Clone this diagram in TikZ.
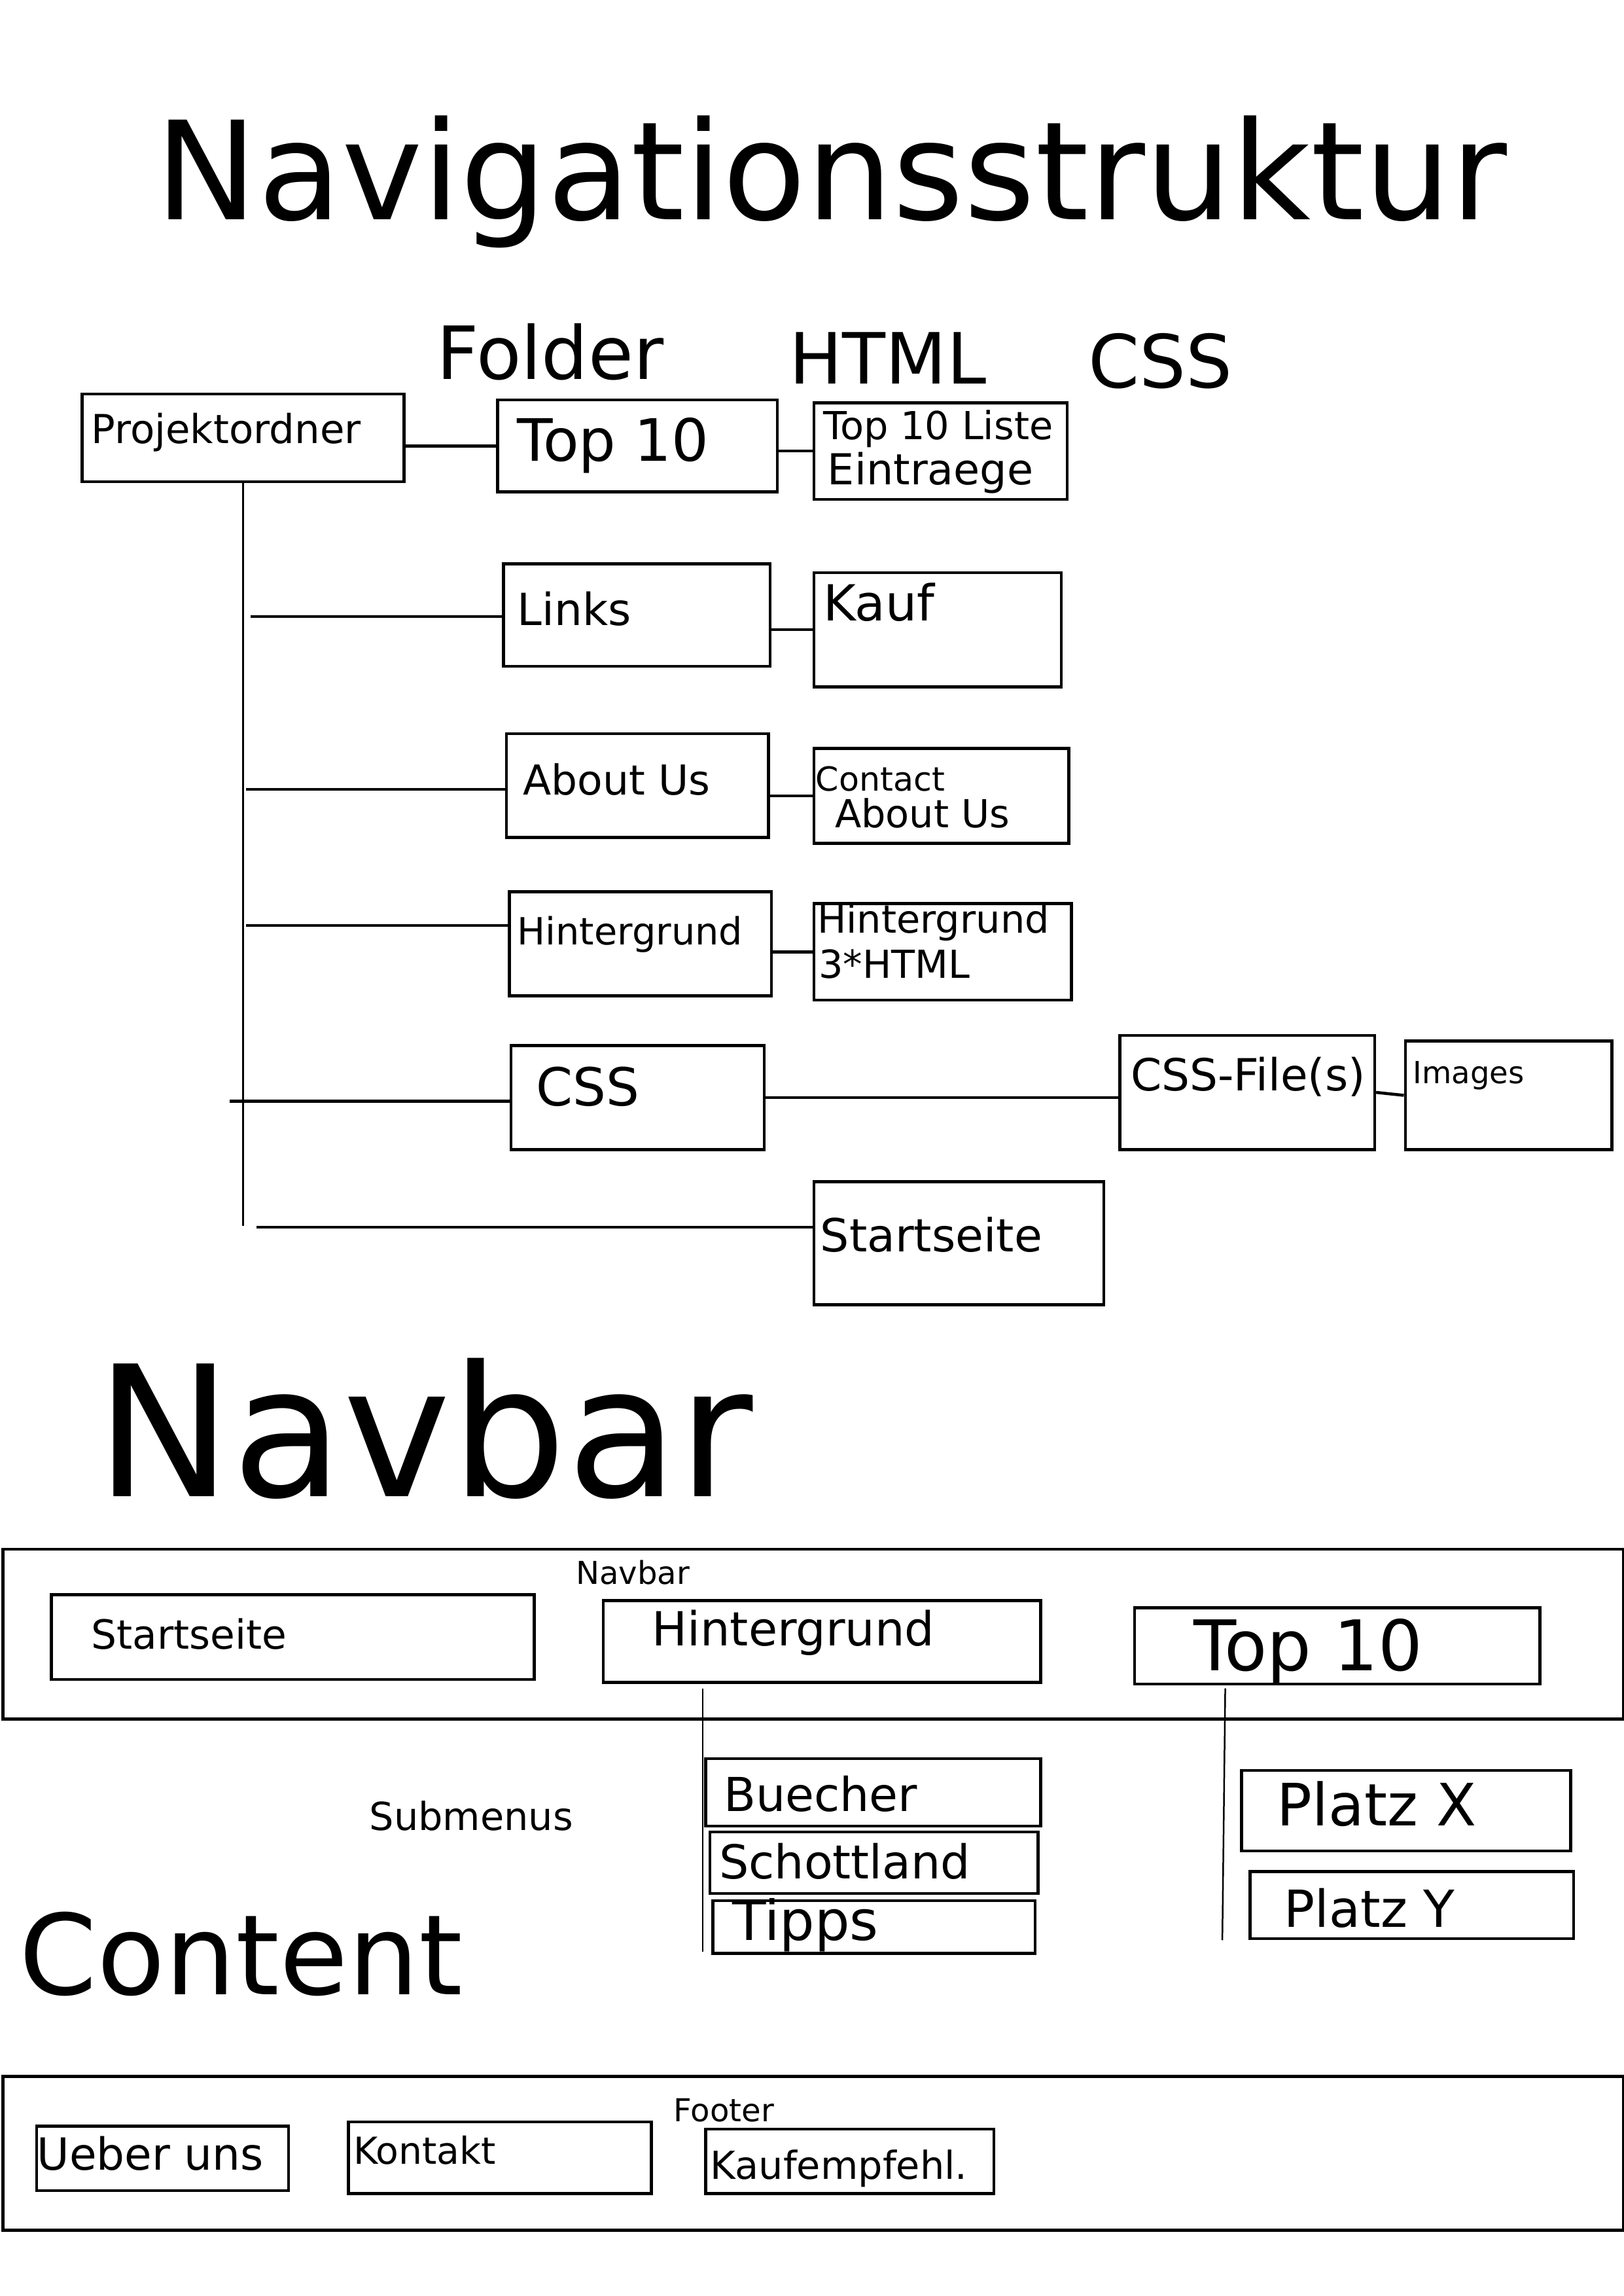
\documentclass[tikz,border=0pt]{standalone}
\usepackage{fontspec}
\setmainfont{DejaVu Sans}

\newdimen\unitpx
\unitpx=0.18936mm

\begin{document}
\begin{tikzpicture}[x=0.18936mm, y=-0.18936mm,
    box/.style={draw, line width=1.1pt, inner sep=0pt, anchor=north west},
    txt/.style={font=\fontsize{#1}{#1}\selectfont, inner sep=0pt, anchor=base west},
    conn/.style={line width=1.1pt},
    stem/.style={line width=0.6pt}]

    \useasboundingbox (0,0) rectangle (1109,1568);

    % headings
    \node[txt=50.3pt] (title) at (106,150) {Navigationsstruktur};
    \node[txt=27pt] (hfolder) at (298,259) {Folder};
    \node[txt=26pt] (hhtml) at (539,262) {HTML};
    \node[txt=27pt] (hcss) at (743,265) {CSS};

    % folder column
    \node[box, minimum width=220\unitpx, minimum height=60\unitpx] (proj) at (55,268) {};
    \node[txt=14.7pt] (projtxt) at (62,303) {Projektordner};
    \node[box, minimum width=191\unitpx, minimum height=63\unitpx] (top) at (339,272) {};
    \node[txt=21.5pt] (toptxt) at (353,315) {Top 10};
    \node[box, minimum width=182\unitpx, minimum height=70\unitpx] (links) at (343,384) {};
    \node[txt=16.3pt] (linkstxt) at (353,427) {Links};
    \node[box, minimum width=179\unitpx, minimum height=71\unitpx] (about) at (345,500) {};
    \node[txt=15.2pt] (abouttxt) at (357,543) {About Us};
    \node[box, minimum width=179\unitpx, minimum height=71\unitpx] (hint) at (347,608) {};
    \node[txt=13.8pt] (hinttxt) at (353,645) {Hintergrund};
    \node[box, minimum width=173\unitpx, minimum height=71\unitpx] (css) at (348,713) {};
    \node[txt=19.3pt] (csstxt) at (366,755) {CSS};

    % html column
    \node[box, minimum width=173\unitpx, minimum height=66\unitpx] (liste) at (555,274) {};
    \node[txt=14.2pt] (listetxt) at (562,300) {Top 10 Liste};
    \node[txt=15.7pt] (eintrtxt) at (565,331) {Eintraege};
    \node[box, minimum width=169\unitpx, minimum height=78\unitpx] (kauf) at (555,390) {};
    \node[txt=18.3pt] (kauftxt) at (562,424) {Kauf};
    \node[box, minimum width=174\unitpx, minimum height=65\unitpx] (contact) at (555,510) {};
    \node[txt=12.2pt] (contacttxt) at (557,540) {Contact};
    \node[txt=14.2pt] (contabouttxt) at (570,565) {About Us};
    \node[box, minimum width=176\unitpx, minimum height=66\unitpx] (hinthtml) at (555,616) {};
    \node[txt=14.2pt] (hinthtmltxt) at (558,637) {Hintergrund};
    \node[txt=14.2pt] (dreihtmltxt) at (559,668) {3*HTML};
    \node[box, minimum width=198\unitpx, minimum height=84\unitpx] (start) at (555,806) {};
    \node[txt=16.8pt] (starttxt) at (560,855) {Startseite};

    % css column
    \node[box, minimum width=174\unitpx, minimum height=78\unitpx] (cssfile) at (764,706) {};
    \node[txt=16.3pt] (cssfiletxt) at (772,745) {CSS-File(s)};
    \node[box, minimum width=141\unitpx, minimum height=74\unitpx] (images) at (959,710) {};
    \node[txt=11.2pt] (imagestxt) at (965,740) {Images};

    % tree
    \coordinate (tend) at (166,837);
    \coordinate (b1) at (171,421);
    \coordinate (b2) at (168,539);
    \coordinate (b3) at (168,632);
    \coordinate (b4) at (157,752);
    \coordinate (b5) at (175,838);
    \draw[stem] (proj.south -| tend) -- (tend);
    \draw[conn] (top.west -| proj.east) -- (top.west);
    \draw[conn] (b1) -- (b1 -| links.west);
    \draw[conn] (b2) -- (b2 -| about.west);
    \draw[conn] (b3) -- (b3 -| hint.west);
    \draw[conn] (b4) -- (b4 -| css.west);
    \draw[conn] (b5) -- (b5 -| start.west);

    % folder to html
    \draw[conn] (liste.west -| top.east) -- (liste.west);
    \draw[conn] (kauf.west -| links.east) -- (kauf.west);
    \draw[conn] (contact.west -| about.east) -- (contact.west);
    \draw[conn] (hinthtml.west -| hint.east) -- (hinthtml.west);
    \draw[conn] (css.east) -- (css.east -| cssfile.west);
    \draw[conn] (cssfile.east) -- (images.west);

    % navbar
    \node[txt=67pt] (navtitle) at (65,1022) {Navbar};
    \node[box, minimum width=1107\unitpx, minimum height=116\unitpx] (navbar) at (1,1057) {};
    \node[txt=11.6pt] (navbartxt) at (393,1082) {Navbar};
    \node[box, minimum width=330\unitpx, minimum height=58\unitpx] (nstart) at (34,1088) {};
    \node[txt=14.8pt] (nstarttxt) at (62,1126) {Startseite};
    \node[box, minimum width=299\unitpx, minimum height=56\unitpx] (nhint) at (411,1092) {};
    \node[txt=17.3pt] (nhinttxt) at (445,1124) {Hintergrund};
    \node[box, minimum width=277\unitpx, minimum height=52\unitpx] (ntop) at (774,1097) {};
    \node[txt=25.7pt] (ntoptxt) at (815,1141) {Top 10};

    % submenus
    \node[txt=14.2pt] (subtxt) at (252,1250) {Submenus};
    \node[box, minimum width=229\unitpx, minimum height=46\unitpx] (buecher) at (481,1200) {};
    \node[txt=17.2pt] (buechertxt) at (494,1237) {Buecher};
    \node[box, minimum width=224\unitpx, minimum height=42\unitpx] (schott) at (484,1250) {};
    \node[txt=17.2pt] (schotttxt) at (491,1283) {Schottland};
    \node[box, minimum width=220\unitpx, minimum height=36\unitpx] (tipps) at (486,1297) {};
    \node[txt=20.3pt] (tippstxt) at (500,1325) {Tipps};
    \node[box, minimum width=225\unitpx, minimum height=55\unitpx] (platzx) at (847,1208) {};
    \node[txt=21.5pt] (platzxtxt) at (872,1247) {Platz X};
    \node[box, minimum width=221\unitpx, minimum height=46\unitpx] (platzy) at (853,1277) {};
    \node[txt=18.8pt] (platzytxt) at (877,1316) {Platz Y};
    \coordinate (s1) at (480,1153);
    \coordinate (s2) at (480,1333);
    \coordinate (s3) at (837,1153);
    \coordinate (s4) at (835,1325);
    \draw[stem] (s1) -- (s2);
    \draw[stem] (s3) -- (s4);

    % content
    \node[txt=41pt] (content) at (13,1362) {Content};

    % footer
    \node[box, minimum width=1107\unitpx, minimum height=105\unitpx] (footer) at (1,1417) {};
    \node[txt=11.6pt] (footertxt) at (460,1449) {Footer};
    \node[box, minimum width=172\unitpx, minimum height=44\unitpx] (ueber) at (24,1451) {};
    \node[txt=16.3pt] (uebertxt) at (25,1482) {Ueber uns};
    \node[box, minimum width=207\unitpx, minimum height=49\unitpx] (kontakt) at (237,1448) {};
    \node[txt=13.7pt] (kontakttxt) at (241,1478) {Kontakt};
    \node[box, minimum width=197\unitpx, minimum height=44\unitpx] (kaufe) at (481,1453) {};
    \node[txt=14.2pt] (kaufetxt) at (485,1488) {Kaufempfehl.};
\end{tikzpicture}
\end{document}
